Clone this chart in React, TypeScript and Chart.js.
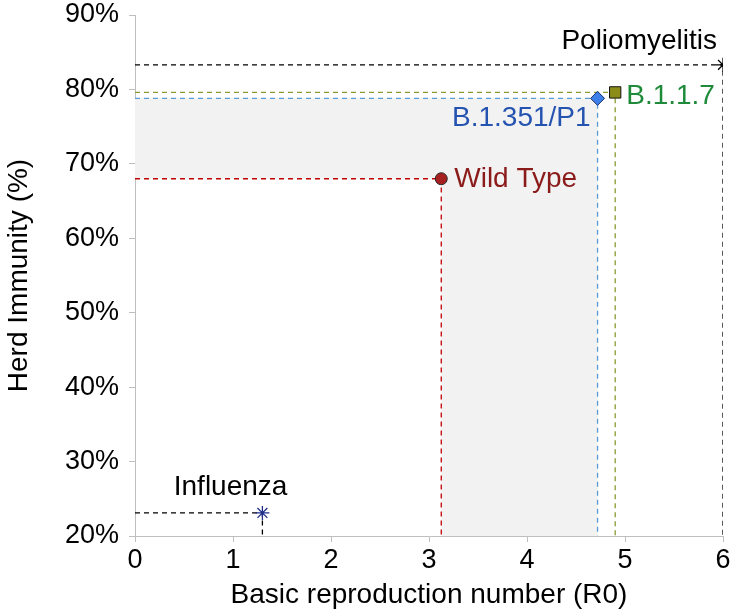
import React, { useEffect, useRef } from "react";
import { Chart, registerables } from "chart.js";

Chart.register(...registerables);

const diseases = ["Influenza", "Wild Type", "B.1.351/P1", "B.1.1.7", "Poliomyelitis"];
const r0Values = [1.3, 3.125, 4.72, 4.9, 6.0];
const herdValues = [23.1, 68.0, 78.8, 79.6, 83.3];
const xTicks = [0, 1, 2, 3, 4, 5, 6];
const yTicks = [20, 30, 40, 50, 60, 70, 80, 90];

const lineColors = ["#000000", "#c00000", "#5b9bd5", "#8a9a30", "#000000"];
const markerFill = ["#1f2f8a", "#a5201f", "#3d7ee8", "#8c8c18", "#000000"];
const markerBorder = ["#1f2f8a", "#2a2a2a", "#1b2f6a", "#111111", "#000000"];
const markerStyle = ["star", "circle", "rectRot", "rect", "star"];
const markerRadius = [7, 6, 7, 8, 7];
const labelColors = ["#000000", "#8b1a1a", "#2553b0", "#1f8b3a", "#000000"];

const FONT = "'Liberation Sans', Arial, Helvetica, sans-serif";

const shadePlugin = {
  id: "shade",
  beforeDatasetsDraw(chart: any) {
    const { ctx, scales } = chart;
    const xs = scales.x;
    const ys = scales.y;
    const lo = r0Values[1];
    const hi = r0Values[2];
    const yLo = herdValues[1];
    const yHi = herdValues[2];
    const yMin = ys.min;
    ctx.save();
    ctx.fillStyle = "#f2f2f2";
    ctx.beginPath();
    ctx.moveTo(xs.getPixelForValue(0), ys.getPixelForValue(yHi));
    ctx.lineTo(xs.getPixelForValue(hi), ys.getPixelForValue(yHi));
    ctx.lineTo(xs.getPixelForValue(hi), ys.getPixelForValue(yMin));
    ctx.lineTo(xs.getPixelForValue(lo), ys.getPixelForValue(yMin));
    ctx.lineTo(xs.getPixelForValue(lo), ys.getPixelForValue(yLo));
    ctx.lineTo(xs.getPixelForValue(0), ys.getPixelForValue(yLo));
    ctx.closePath();
    ctx.fill();
    ctx.restore();
  },
};

// label offsets in px relative to point, and alignment
const labelPlacement: Array<[number, number, CanvasTextAlign]> = [
  [25, -26, "right"],
  [13, 1, "left"],
  [-7, 20, "right"],
  [11, 4, "left"],
  [-6, -24, "right"],
];

const labelPlugin = {
  id: "labels",
  afterDatasetsDraw(chart: any) {
    const { ctx, scales } = chart;
    ctx.save();
    ctx.font = `28px ${FONT}`;
    ctx.textBaseline = "middle";
    diseases.forEach((name, i) => {
      const px = scales.x.getPixelForValue(r0Values[i]);
      const py = scales.y.getPixelForValue(herdValues[i]);
      const [dx, dy, align] = labelPlacement[i];
      ctx.textAlign = align;
      ctx.fillStyle = labelColors[i];
      ctx.fillText(name, px + dx, py + dy);
    });
    ctx.restore();
  },
};

export default function App() {
  const ref = useRef<HTMLCanvasElement | null>(null);
  useEffect(() => {
    document.body.style.margin = "0";
    if (!ref.current) return;
    const yMin = yTicks[0];
    const guideSets = diseases.map((name, i) => ({
      label: name + " guide",
      data: [
        { x: 0, y: herdValues[i] },
        { x: r0Values[i], y: herdValues[i] },
        { x: r0Values[i], y: yMin },
      ],
      showLine: true,
      borderColor: lineColors[i],
      borderWidth: 1.3,
      borderDash: [5, 4],
      pointRadius: 0,
      fill: false,
      order: 2,
    }));
    const pointSets = diseases.map((name, i) => ({
      label: name,
      data: [{ x: r0Values[i], y: herdValues[i] }],
      showLine: false,
      pointStyle: markerStyle[i],
      pointRadius: markerRadius[i],
      backgroundColor: markerFill[i],
      borderColor: markerBorder[i],
      borderWidth: markerStyle[i] === "star" ? 1.3 : 1,
      order: 1,
    }));
    const chart = new Chart(ref.current, {
      type: "scatter",
      data: { datasets: [...guideSets, ...pointSets] as any },
      options: {
        animation: false,
        responsive: false,
        maintainAspectRatio: false,
        layout: { padding: { left: 0, right: 13, top: 15, bottom: 0 } },
        plugins: { legend: { display: false }, tooltip: { enabled: false } },
        scales: {
          x: {
            type: "linear",
            min: xTicks[0],
            max: xTicks[xTicks.length - 1],
            afterBuildTicks: (s: any) => {
              s.ticks = xTicks.map((v) => ({ value: v }));
            },
            afterFit: (s: any) => {
              s.height = 80;
              s.paddingLeft = 0;
              s.paddingRight = 0;
            },
            ticks: {
              color: "#000",
              font: { family: FONT, size: 27 },
              padding: 2,
            },
            grid: { display: true, drawOnChartArea: false, drawTicks: true, tickLength: 6, color: "#bfbfbf" },
            border: { color: "#bfbfbf" },
            title: {
              display: true,
              text: "Basic reproduction number (R0)",
              color: "#000",
              font: { family: FONT, size: 28 },
              padding: { top: 0, bottom: 4 },
            },
          },
          y: {
            type: "linear",
            min: yTicks[0],
            max: yTicks[yTicks.length - 1],
            afterBuildTicks: (s: any) => {
              s.ticks = yTicks.map((v) => ({ value: v }));
            },
            afterFit: (s: any) => {
              s.width = 135;
              s.paddingTop = 0;
              s.paddingBottom = 0;
            },
            ticks: {
              color: "#000",
              font: { family: FONT, size: 27 },
              padding: 10,
              callback: (v: any) => v + "%",
            },
            grid: { display: true, drawOnChartArea: false, drawTicks: true, tickLength: 6, color: "#bfbfbf" },
            border: { color: "#bfbfbf" },
            title: {
              display: true,
              text: "Herd Immunity (%)",
              color: "#000",
              font: { family: FONT, size: 28 },
              padding: { top: 2, bottom: 0 },
            },
          },
        },
      },
      plugins: [shadePlugin, labelPlugin],
    });
    return () => chart.destroy();
  }, []);
  return (
    <div style={{ width: 736, height: 616 }}>
      <canvas ref={ref} width={736} height={616} style={{ display: "block" }} />
    </div>
  );
}
